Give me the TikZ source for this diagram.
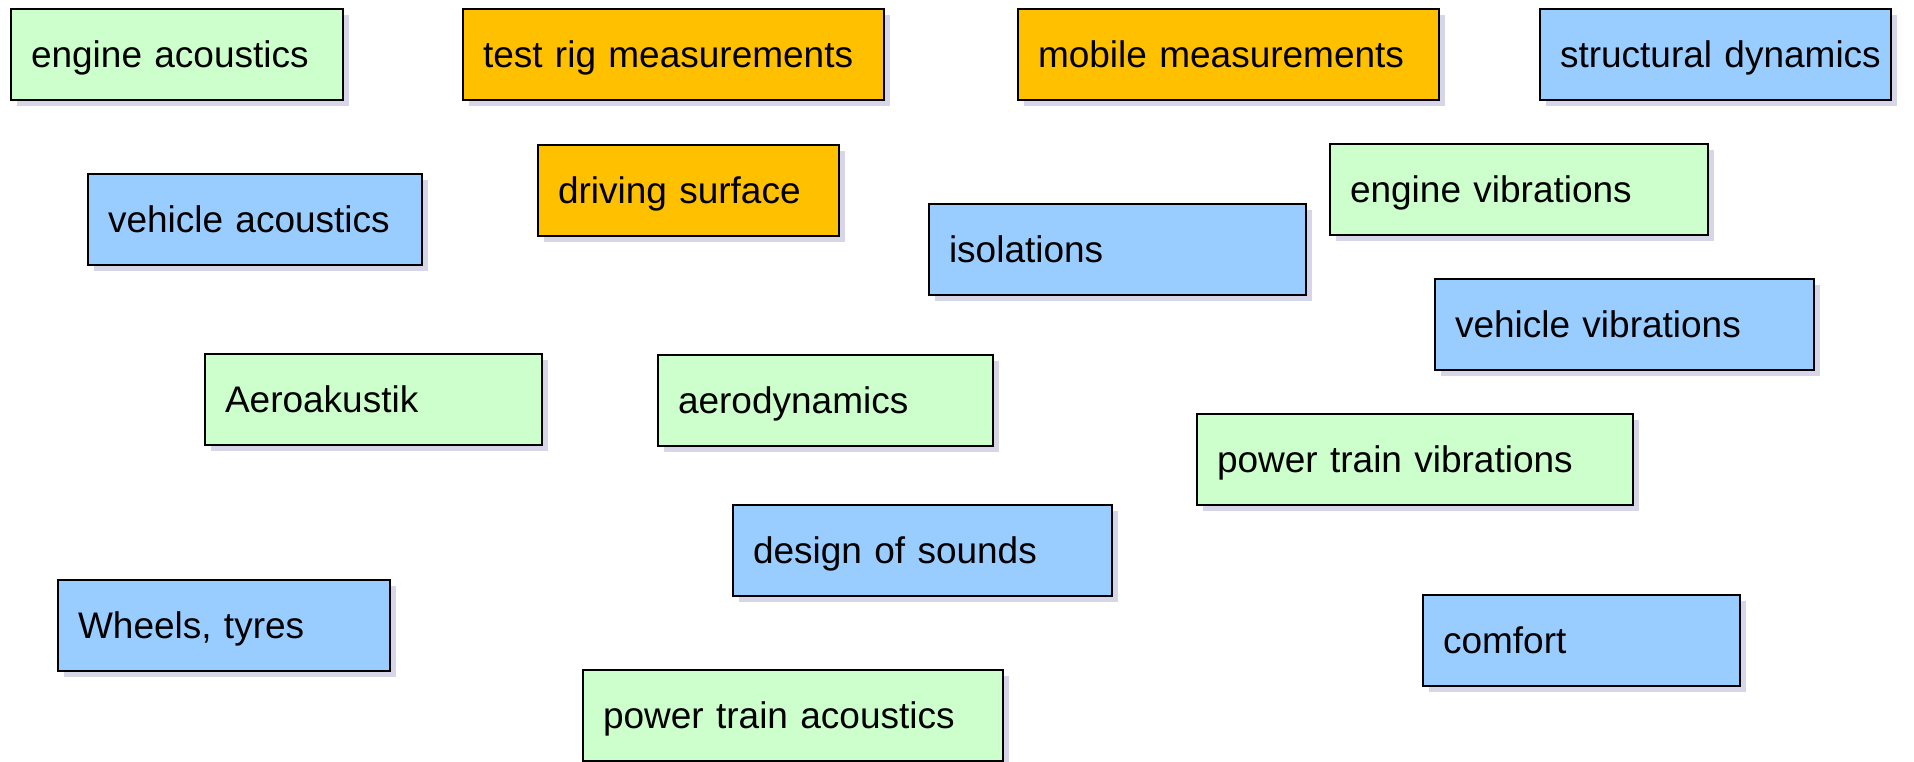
\documentclass[tikz,border=0pt]{standalone}
\usepackage{fontspec}
\setmainfont{Liberation Sans}
\usetikzlibrary{shadows}

\definecolor{topicgreen}{RGB}{204,255,204}
\definecolor{topicorange}{RGB}{255,192,0}
\definecolor{topicblue}{RGB}{153,204,255}
\definecolor{topicshadow}{RGB}{214,214,232}

\tikzset{
  topic/.style={draw=black, line width=1pt, anchor=north west,
    inner xsep=0pt, inner ysep=0pt, minimum height=45.5pt,
    text height=1.3em, text depth=0pt, align=left,
    font=\fontsize{18.5pt}{22pt}\selectfont,
    execute at begin node={\hspace*{10pt}},
    drop shadow={shadow xshift=3pt, shadow yshift=-3pt, fill=topicshadow, opacity=1}},
  acoustic/.style={topic, fill=topicgreen},
  measure/.style={topic, fill=topicorange},
  structure/.style={topic, fill=topicblue}
}

\begin{document}
\begin{tikzpicture}[x=0.5pt,y=-0.5pt]
\useasboundingbox (0,0) rectangle (1914,761);
\fill[white] (0,0) rectangle (1914,761);
% Top row
\node[acoustic, text width=166pt] (engac) at (10,8) {engine acoustics};
\node[measure, text width=210.5pt] (testrig) at (462,8) {test rig measurements};
\node[measure, text width=210.5pt] (mobile) at (1017,8) {mobile measurements};
\node[structure, text width=175.5pt] (structdyn) at (1539,8) {structural dynamics};
% Second band
\node[structure, text width=167pt] (vehac) at (87,173) {vehicle acoustics};
\node[measure, text width=150.5pt] (surface) at (537,144) {driving surface};
\node[structure, text width=188.5pt] (isol) at (928,203) {isolations};
\node[acoustic, text width=189pt] (engvib) at (1329,143) {engine vibrations};
\node[structure, text width=189.5pt] (vehvib) at (1434,278) {vehicle vibrations};
% Middle band
\node[acoustic, text width=168.5pt] (aeroak) at (204,353) {Aeroakustik};
\node[acoustic, text width=167.5pt] (aerodyn) at (657,354) {aerodynamics};
\node[acoustic, text width=218pt] (ptvib) at (1196,413) {power train vibrations};
\node[structure, text width=189.5pt] (sounds) at (732,504) {design of sounds};
% Bottom band
\node[structure, text width=166pt] (wheels) at (57,579) {Wheels, tyres};
\node[structure, text width=158.5pt] (comfort) at (1422,594) {comfort};
\node[acoustic, text width=210pt] (ptac) at (582,669) {power train acoustics};
\end{tikzpicture}
\end{document}
